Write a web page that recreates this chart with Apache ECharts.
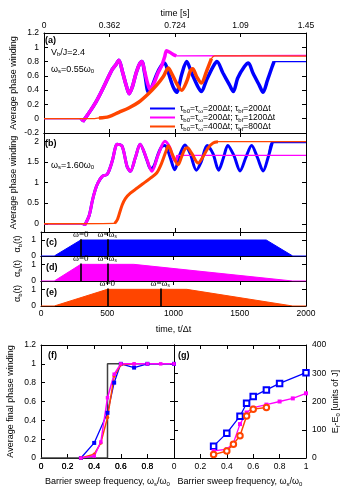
<!DOCTYPE html>
<html>
<head>
<meta charset="utf-8">
<script src="https://cdn.jsdelivr.net/npm/echarts@6/dist/echarts.min.js"></script>
<style>
html, body { margin: 0; padding: 0; background: #fff; }
#chart { width: 348px; height: 493px; }
</style>
</head>
<body>
<div id="chart"></div>
<script>
// ---- data ----
const timeTicks = [0, 500, 1000, 1500, 2000];
const secLabels = ['0', '0.362', '0.724', '1.09', '1.45'];

// panel (a), omega_s = 0.55 omega_0 : [t/dt, winding]
const aMagenta = [[0,0],[270,0],[295,-0.04],[320,0.02],[357,0.12],[395,0.23],[430,0.35],[470,0.5],[521,0.69],[550,0.76],[571,0.82],[600,0.65],[630,0.45],[650,0.35],[675,0.45],[700,0.62],[725,0.75],[747,0.8],[770,0.65],[790,0.5],[810,0.41],[840,0.5],[870,0.64],[898,0.74],[920,0.86],[936,0.95],[960,0.93],[986,0.9],[1010,0.88],[2000,0.885]];
const aBlueLate = [[770,0.62],[797,0.37],[820,0.43],[860,0.62],[895,0.74],[920,0.78],[950,0.64],[985,0.45],[1012,0.37],[1051,0.62],[1089,0.8],[1127,0.64],[1177,0.44],[1202,0.38],[1240,0.54],[1291,0.73],[1320,0.8],[1366,0.64],[1417,0.47],[1445,0.38],[1479,0.57],[1530,0.73],[1560,0.78],[1595,0.64],[1643,0.47],[1672,0.37],[1706,0.54],[1740,0.72],[1756,0.8],[2000,0.8]];
const aOrange = [[0,0],[370,0],[420,0.01],[496,0.03],[571,0.09],[647,0.15],[722,0.23],[797,0.35],[860,0.47],[911,0.59],[949,0.71],[970,0.65],[989,0.58],[1026,0.45],[1051,0.4],[1089,0.52],[1115,0.66],[1135,0.7],[1165,0.59],[1202,0.5],[1240,0.66],[1278,0.84],[1303,0.88],[2000,0.875]];

// panel (b), omega_s = 1.60 omega_0
const bMagenta = [[0,0],[280,0],[310,-0.04],[345,0.2],[370,0.57],[390,0.81],[410,0.98],[445,1.15],[483,1.2],[521,1.52],[545,1.85],[558,1.93],[596,1.88],[634,1.39],[659,1.27],[697,1.6],[734,1.93],[785,1.56],[823,1.27],[873,1.68],[923,2.0],[960,1.85],[985,1.6],[1005,1.52],[1020,1.66],[2000,1.66]];
const bBlueLate = [[785,1.55],[815,1.33],[840,1.4],[870,1.68],[898,1.87],[923,1.9],[960,1.64],[998,1.31],[1040,1.7],[1076,1.91],[1115,1.71],[1163,1.3],[1200,1.5],[1245,1.9],[1290,1.7],[1333,1.3],[1370,1.6],[1403,1.9],[1450,1.65],[1497,1.28],[1540,1.6],[1585,1.9],[1630,1.6],[1673,1.28],[1710,1.6],[1743,1.97],[2000,1.97]];
const bOrange = [[0,0],[540,0.01],[560,0.1],[571,0.2],[596,0.45],[621,0.61],[659,0.74],[709,0.86],[760,0.98],[810,1.1],[860,1.23],[898,1.47],[936,1.8],[949,1.89],[965,1.8],[986,1.64],[1024,1.43],[1050,1.62],[1074,1.8],[1095,1.84],[1127,1.71],[1177,1.47],[1215,1.63],[1253,1.84],[1291,1.96],[1328,1.99],[2000,1.99]];

// barrier envelopes alpha_b(t), panels (c)-(e)
const envC = [[0,0],[100,0],[300,1],[1700,1],[1900,0],[2000,0]];
const envD = [[0,0],[100,0],[300,1],[700,1],[1900,0],[2000,0]];
const envE = [[0,0],[100,0],[500,1],[1100,1],[1900,0],[2000,0]];
const marksC = [300, 500];
const marksD = [300, 500];
const marksE = [500, 900];
const markNames = ['ω=0', 'ω=ω{s|s}'];

// panel (f): final winding vs omega_s/omega_0
const fTicks = [0, 0.2, 0.4, 0.6, 0.8];
const fStep = [[0,0],[0.5,0],[0.5,1],[1,1]];
const fBlue = [[0.3,0],[0.4,0.16],[0.5,0.48],[0.55,0.8],[0.6,1.0],[0.7,0.96],[0.8,1.0],[1.0,1.0]];
const fMagenta = [[0.3,0],[0.4,0.02],[0.45,0.17],[0.5,0.64],[0.55,0.89],[0.6,1.0],[0.7,1.0],[0.8,1.0],[0.9,1.0],[1.0,1.0]];
const fOrange = [[0.3,0],[0.4,0.04],[0.45,0.16],[0.5,0.43],[0.55,0.87],[0.6,0.99],[0.7,1.0]];

// panel (g): Ef - E0 [J]
const gBlue = [[0.3,42],[0.4,88],[0.5,148],[0.55,194],[0.6,218],[0.7,241],[0.8,264],[1.0,302]];
const gMagenta = [[0.3,25],[0.4,31],[0.45,53],[0.5,120],[0.55,161],[0.6,178],[0.7,189],[0.8,200],[0.9,211],[1.0,229]];
const gOrange = [[0.3,12],[0.4,25],[0.45,49],[0.5,79],[0.55,149],[0.6,173],[0.7,179]];

const legendKeys = ['s1', 's2', 's3'];
const legendLabels = [
  'τ{s|b0}=τ{s|ω}=200Δt; τ{s|bf}=200Δt',
  'τ{s|b0}=τ{s|ω}=200Δt; τ{s|bf}=1200Δt',
  'τ{s|b0}=τ{s|ω}=400Δt; τ{s|bf}=800Δt'
];

// ---- styling ----
const FONT = 'Liberation Sans';
const SERIF = 'Liberation Serif';
const BLUE = '#0000ff', MAG = '#ff00ff', ORA = '#ff4500', STEP = '#404040';
const sub = { s: { fontSize: 6, fontFamily: FONT, lineHeight: 6, verticalAlign: 'bottom' } };
const subSerif = { s: { fontSize: 6, fontFamily: SERIF, lineHeight: 6, verticalAlign: 'bottom' } };

const tick = { show: true, inside: true, length: 4, lineStyle: { color: '#000' } };
const axLine = { show: true, onZero: false, lineStyle: { color: '#000', width: 1 } };
const lab = { show: true, color: '#000', fontFamily: FONT, fontSize: 8.5, hideOverlap: false };
const nameStyle = { color: '#000', fontFamily: FONT, fontSize: 9, lineHeight: 11, rich: sub };

function axis(grid, pos, min, max, interval, label, extra) {
  let a = {
    type: 'value', gridIndex: grid, position: pos, min: min, max: max,
    axisLine: axLine, axisTick: Object.assign({}, tick),
    splitLine: { show: false }, nameMoveOverlap: false,
    axisLabel: label ? Object.assign({}, lab, label) : { show: false }
  };
  if (interval) a.interval = interval;
  return Object.assign(a, extra || {});
}

function timeSeries(key, color, data, xi, yi, from, to, w) {
  return [
    { type: 'line', name: key, xAxisIndex: xi, yAxisIndex: yi, data: data, symbol: 'none', smooth: 0.3,
      lineStyle: { color: color, width: 1.3 }, itemStyle: { color: color } },
    { type: 'line', name: key, xAxisIndex: xi, yAxisIndex: yi, symbol: 'none', smooth: 0.3,
      data: data.filter(p => p[0] >= from && p[0] <= to),
      lineStyle: { color: color, width: w }, itemStyle: { color: color } }
  ];
}

function envelope(color, data, xi, yi, marks) {
  return {
    type: 'line', xAxisIndex: xi, yAxisIndex: yi, data: data, symbol: 'none',
    lineStyle: { color: color, width: 1 }, areaStyle: { color: color, opacity: 1 },
    markLine: {
      silent: true, symbol: 'none', animation: false,
      lineStyle: { color: '#000', width: 1.6, type: 'solid' },
      label: { show: true, position: 'end', distance: 0, formatter: p => p.name,
        fontFamily: SERIF, fontSize: 9, color: '#000', rich: subSerif },
      data: marks.map((t, i) => [{ name: markNames[i], coord: [t, 0] }, { coord: [t, 1.05] }])
    }
  };
}

const plain = v => String(v);
const freqName = 'Barrier sweep frequency, ω{s|s}/ω{s|0}';

const xAxes = [
  axis(0, 'bottom', 0, 2000, 500),
  axis(0, 'top', 0, 2000, 500, { margin: 3, formatter: v => secLabels[timeTicks.indexOf(v)] },
    { name: 'time [s]', nameLocation: 'middle', nameGap: 14, nameTextStyle: nameStyle }),
  axis(1, 'bottom', 0, 2000, 500),
  axis(1, 'top', 0, 2000, 500),
  axis(2, 'bottom', 0, 2000, 500),
  axis(2, 'top', 0, 2000, 500),
  axis(3, 'bottom', 0, 2000, 500),
  axis(3, 'top', 0, 2000, 500),
  axis(4, 'bottom', 0, 2000, 500, { margin: 3, formatter: plain },
    { name: 'time, t/Δt', nameLocation: 'middle', nameGap: 18, nameTextStyle: nameStyle }),
  axis(4, 'top', 0, 2000, 500),
  axis(5, 'bottom', 0, 1, 0.2, { margin: 4, customValues: fTicks }),
  axis(5, 'top', 0, 1, 0.2),
  axis(6, 'bottom', 0, 1, 0.2, { margin: 4 },
    { name: freqName, nameLocation: 'middle', nameGap: 18, nameTextStyle: nameStyle }),
  axis(6, 'top', 0, 1, 0.2)
];

function customY(grid, pos, min, max, vals, label, extra) {
  let a = axis(grid, pos, min, max, null, label ? Object.assign({ customValues: vals }, label) : null, extra);
  a.axisTick.customValues = vals;
  return a;
}

const alphaName = { name: 'α{s|b}(t)', nameLocation: 'middle', nameGap: 18, nameTextStyle: nameStyle };

const yAxes = [
  axis(0, 'left', -0.2, 1.2, 0.2, { margin: 5 },
    { name: 'Average phase winding', nameLocation: 'middle', nameGap: 25, nameTextStyle: nameStyle }),
  axis(0, 'right', -0.2, 1.2, 0.2),
  customY(1, 'left', -0.2, 2.2, [0, 0.5, 1, 1.5, 2], { margin: 5 },
    { name: 'Average phase winding', nameLocation: 'middle', nameGap: 25, nameTextStyle: nameStyle }),
  customY(1, 'right', -0.2, 2.2, [0, 0.5, 1, 1.5, 2]),
  customY(2, 'left', 0, 1.5, [0, 1], { margin: 5 }, alphaName),
  customY(2, 'right', 0, 1.5, [0, 1]),
  customY(3, 'left', 0, 1.5, [0, 1], { margin: 5 }, alphaName),
  customY(3, 'right', 0, 1.5, [0, 1]),
  customY(4, 'left', 0, 1.5, [0, 1], { margin: 5 }, alphaName),
  customY(4, 'right', 0, 1.5, [0, 1]),
  axis(5, 'left', 0, 1.2, 0.2, { margin: 5 },
    { name: 'Average final phase winding', nameLocation: 'middle', nameGap: 25, nameTextStyle: nameStyle }),
  axis(5, 'right', 0, 1.2, 0.2),
  axis(6, 'right', 0, 400, 100, { margin: 6 },
    { name: 'E{s|f}-E{s|0} [units of J]', nameLocation: 'middle', nameGap: 24, nameTextStyle: nameStyle }),
  axis(6, 'left', 0, 400, 100)
];

const series = [].concat(
  timeSeries('s1', BLUE, aMagenta.filter(p => p[0] <= 750).concat(aBlueLate), 0, 0, 285, 1756, 3.5),
  timeSeries('s2', MAG, aMagenta, 0, 0, 285, 1010, 3.5),
  timeSeries('s3', ORA, aOrange, 0, 0, 380, 1300, 3.5),
  timeSeries('s1', BLUE, bMagenta.filter(p => p[0] <= 760).concat(bBlueLate), 2, 2, 300, 1743, 3),
  timeSeries('s2', MAG, bMagenta, 2, 2, 300, 1020, 3),
  timeSeries('s3', ORA, bOrange, 2, 2, 440, 1328, 3),
  [
    envelope(BLUE, envC, 4, 4, marksC),
    envelope(MAG, envD, 6, 6, marksD),
    envelope(ORA, envE, 8, 8, marksE),
    { type: 'line', xAxisIndex: 10, yAxisIndex: 10, data: fStep, symbol: 'none',
      lineStyle: { color: STEP, width: 1.5 } },
    { type: 'line', xAxisIndex: 10, yAxisIndex: 10, data: fBlue, symbol: 'rect', symbolSize: 4,
      lineStyle: { color: BLUE, width: 1.3 }, itemStyle: { color: BLUE } },
    { type: 'line', xAxisIndex: 10, yAxisIndex: 10, data: fOrange, symbol: 'circle', symbolSize: 3.5,
      lineStyle: { color: ORA, width: 1.5 }, itemStyle: { color: ORA } },
    { type: 'line', xAxisIndex: 10, yAxisIndex: 10, data: fMagenta, symbol: 'rect', symbolSize: 3.5,
      lineStyle: { color: MAG, width: 1.5 }, itemStyle: { color: MAG } },
    { type: 'line', xAxisIndex: 12, yAxisIndex: 12, data: gBlue, symbol: 'emptyRect', symbolSize: 5.5,
      lineStyle: { color: BLUE, width: 1.3 }, itemStyle: { color: BLUE, borderWidth: 1.2 } },
    { type: 'line', xAxisIndex: 12, yAxisIndex: 12, data: gMagenta, symbol: 'rect', symbolSize: 4,
      lineStyle: { color: MAG, width: 1.3 }, itemStyle: { color: MAG } },
    { type: 'line', xAxisIndex: 12, yAxisIndex: 12, data: gOrange, symbol: 'emptyCircle', symbolSize: 5.5,
      lineStyle: { color: ORA, width: 1.5 }, itemStyle: { color: ORA, borderWidth: 1.2 } }
  ]
);

function note(text, left, top, bold, serif) {
  return {
    type: 'text', left: left, top: top, silent: true, z: 100,
    style: {
      text: text, fill: '#000',
      font: (bold ? 'bold ' : '') + '9px "' + (serif ? SERIF : FONT) + '"',
      rich: sub
    }
  };
}
const notes = [
  note('(a)', 45, 36, true),
  note('V{s|b}/J=2.4', 51, 48),
  note('ω{s|s}=0.55ω{s|0}', 51, 65),
  note('(b)', 45, 139, true),
  note('ω{s|s}=1.60ω{s|0}', 51, 161),
  note('(c)', 46, 238, true),
  note('(d)', 46, 263, true),
  note('(e)', 46, 288, true),
  note('(f)', 48, 351, true),
  note('(g)', 178, 351, true)
];

const chart = echarts.init(document.getElementById('chart'));
chart.setOption({
  animation: false,
  backgroundColor: '#fff',
  grid: [
    { left: 41, top: 33, width: 265, height: 100 },
    { left: 41, top: 133, width: 265, height: 99 },
    { left: 41, top: 232, width: 265, height: 24 },
    { left: 41, top: 256, width: 265, height: 25 },
    { left: 41, top: 281, width: 265, height: 25 },
    { left: 41, top: 345, width: 133, height: 113 },
    { left: 174, top: 345, width: 132, height: 113 }
  ],
  xAxis: xAxes,
  yAxis: yAxes,
  legend: {
    data: legendKeys, left: 150, top: 103, padding: 0, orient: 'vertical', icon: 'rect',
    itemWidth: 25, itemHeight: 2, itemGap: -2, selectedMode: false,
    formatter: n => legendLabels[legendKeys.indexOf(n)],
    textStyle: { color: '#000', fontFamily: FONT, fontSize: 8.5, lineHeight: 11, rich: sub }
  },
  graphic: notes,
  series: series
});

// (f) tick labels and axis title, placed through the (f) axis scale
const fLabels = fTicks.map(v => {
  const p = chart.convertToPixel({ gridIndex: 5 }, [v, 0]);
  return { type: 'text', x: p[0], y: p[1] + 4, silent: true, z: 100,
    style: { text: String(v), align: 'center', verticalAlign: 'top', fill: '#000', font: '8.5px "Liberation Sans"' } };
});
const fMid = chart.convertToPixel({ gridIndex: 5 }, [0.5, 0]);
fLabels.push({ type: 'text', x: fMid[0], y: fMid[1] + 18, silent: true, z: 100,
  style: { text: freqName, align: 'center', verticalAlign: 'top', fill: '#000',
    font: '9px "Liberation Sans"', lineHeight: 11, rich: sub } });
chart.setOption({ graphic: notes.concat(fLabels) });
</script>
</body>
</html>
